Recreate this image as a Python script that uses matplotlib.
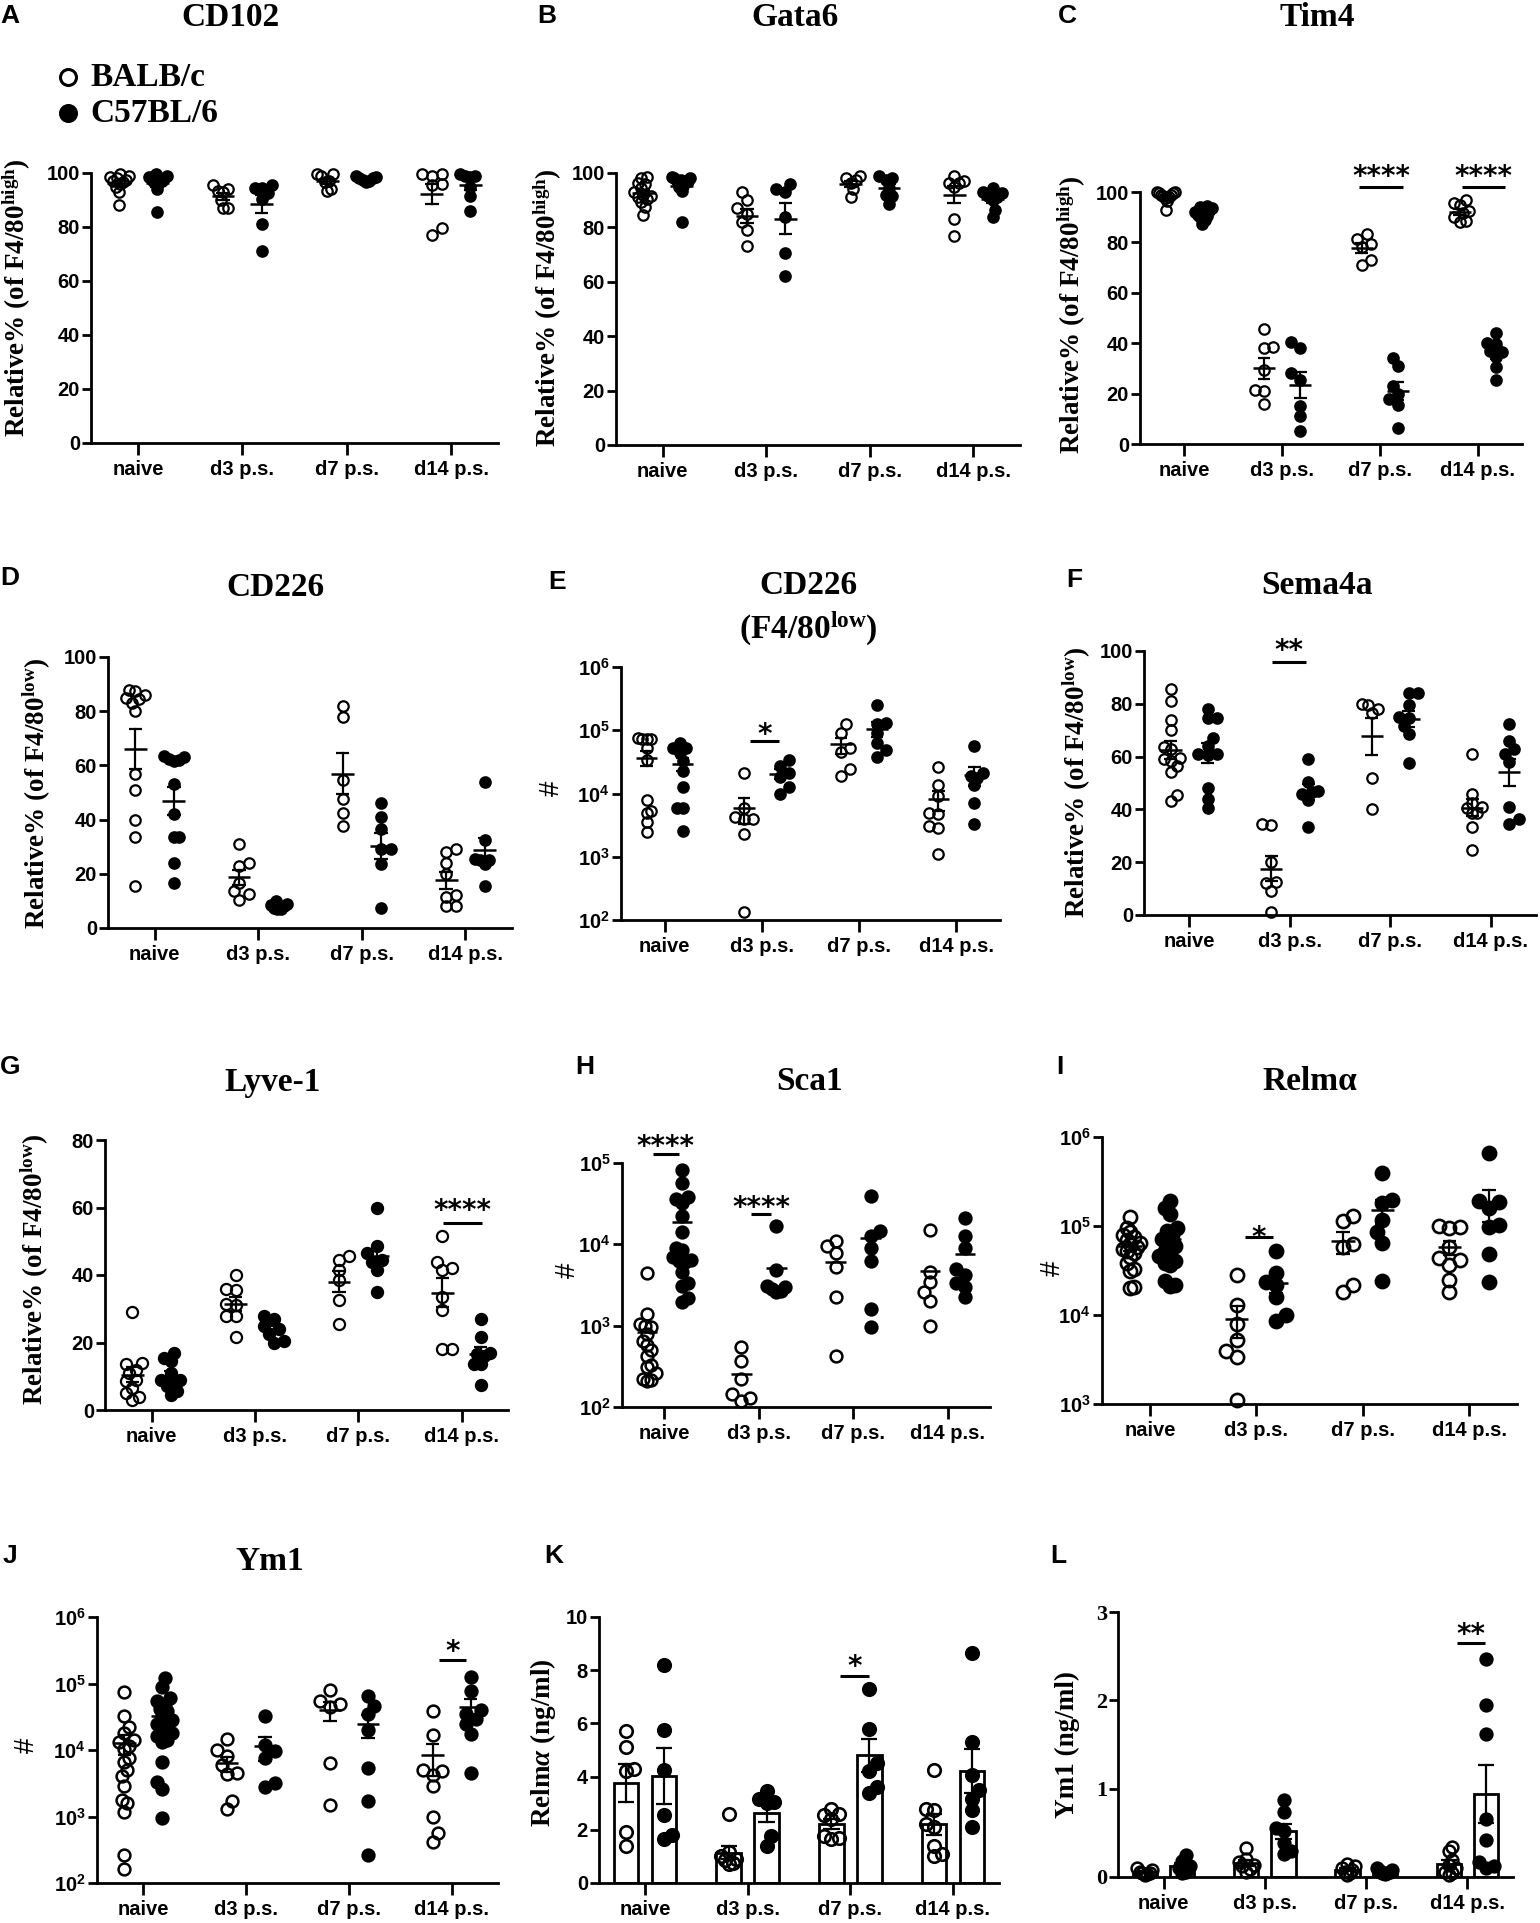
import numpy as np
import matplotlib
matplotlib.use("Agg")
import matplotlib.pyplot as plt
from matplotlib.lines import Line2D
from matplotlib.ticker import NullLocator

plt.rcParams['font.family'] = 'Liberation Sans'
plt.rcParams['font.weight'] = 'bold'
plt.rcParams['mathtext.fontset'] = 'custom'
plt.rcParams['mathtext.rm'] = 'Liberation Serif:bold'
plt.rcParams['mathtext.bf'] = 'Liberation Serif:bold'
plt.rcParams['mathtext.it'] = 'Liberation Serif:bold:italic'
plt.rcParams['mathtext.sf'] = 'Liberation Sans:bold'

W, H = 1540, 1923
groups = ['naive', 'd3 p.s.', 'd7 p.s.', 'd14 p.s.']

# ---- data: one list per time point (naive, d3, d7, d14) ----
cd102_balb = [[99.5, 99, 98.5, 98, 97.5, 97, 96.5, 96, 95, 93, 88],
              [95.5, 94, 93.5, 93, 90, 87, 87],
              [99.5, 99.5, 99, 97, 96.5, 94, 93.5],
              [99.5, 99.5, 99, 96, 95.5, 79.5, 77]]
cd102_b6 = [[99.5, 99, 98.5, 98, 97.5, 97, 97, 96.5, 94, 85.5],
            [95.5, 94.5, 94.5, 92.5, 90.5, 81, 71],
            [99, 98.5, 98, 98, 97.5, 97, 96.5],
            [99.5, 99, 99, 98.5, 95, 91.5, 86]]

gata6_balb = [[98.5, 98, 96.5, 96, 94.5, 93, 92, 91.5, 91, 90.5, 89.5, 87.5, 84.5],
              [93, 90, 87, 85, 82, 79, 73],
              [99, 98, 97.5, 96.5, 94, 91],
              [99, 97, 96.5, 96.5, 95, 83, 77]]
gata6_b6 = [[98.5, 98, 98, 97.5, 97, 97, 96.5, 96, 95, 93.5, 82],
            [96, 94, 93, 84, 70.5, 62],
            [99, 98, 97.5, 94.5, 92, 91.5, 88.5],
            [94.5, 93, 92.5, 91.5, 91, 90, 86.5, 84]]

tim4_balb = [[100, 100, 99.5, 99.5, 99, 99, 98.5, 98, 97.5, 96.5, 93],
             [45.5, 38.5, 38, 29.5, 21.5, 21, 16],
             [83.5, 81.5, 79.5, 78, 73, 71],
             [97, 95.5, 95, 92.5, 91.5, 90, 88.5, 88]]
tim4_b6 = [[94.5, 94, 93.5, 93, 92.5, 92, 91.5, 91, 90.5, 90, 89, 87.5],
           [40.5, 38, 28, 25.5, 15, 11, 5],
           [34, 31, 23, 20, 18, 15.5, 6.5],
           [44, 40, 39.5, 37, 36.5, 34.5, 30.5, 25.5]]

cd226_balb = [[88, 87.5, 86, 85, 84.5, 83, 80, 57, 51, 40, 33.5, 15.5],
              [31, 24, 23, 16.5, 13.5, 12.5, 10.5],
              [82, 78, 54.5, 47.5, 42.5, 37.5],
              [29, 28, 24, 20, 12, 11.5, 8, 8]]
cd226_b6 = [[63.5, 63, 62.5, 62, 61.5, 53, 42, 33.5, 33.5, 24, 16.5],
            [10, 9, 8.5, 8, 7.5, 7, 7],
            [46, 41, 36.5, 29, 29, 23.5, 7.5],
            [54, 32.5, 25.5, 25, 25, 23.5, 15.5]]

cd226n_balb = [[75000, 74000, 73000, 72000, 52000, 34000, 7800, 5200, 5000, 3600, 2500],
               [21000, 6000, 4200, 4000, 3900, 2300, 135],
               [125000, 92000, 52000, 46000, 24000, 19000],
               [26000, 13500, 9000, 5000, 4700, 3100, 2800, 1100]]
cd226n_b6 = [[63000, 53000, 52000, 43000, 33000, 23000, 12500, 6000, 5800, 2600],
             [34000, 27000, 21000, 18000, 12500, 9800],
             [250000, 130000, 125000, 90000, 63000, 48000, 38000],
             [56000, 21000, 19000, 17500, 13500, 7000, 3300]]

sema_balb = [[85.5, 81, 74, 70, 63.5, 63, 59.5, 59, 58.5, 56.5, 54, 45.5, 43],
             [34.5, 34, 20, 12.5, 12, 9, 1],
             [80, 79.5, 78, 76.5, 52, 40],
             [61, 46, 42.5, 41, 40.5, 38.5, 38.5, 33.5, 24.5]]
sema_b6 = [[78, 74.5, 74.5, 67, 64, 61, 61, 60.5, 48, 44, 40.5],
           [59, 50.5, 47, 46.5, 46, 43.5, 33.5],
           [84, 84, 79.5, 75, 74.5, 71.5, 68.5, 57.5],
           [72.5, 66, 63, 61, 58, 41, 36.5, 34.5]]

lyve_balb = [[29, 14, 13.5, 12, 11, 9, 8.5, 6.5, 5, 4, 3],
             [40, 36, 35.5, 31.5, 31, 28, 28, 21.5],
             [45.5, 44.5, 41.5, 38.5, 32.5, 25.5],
             [51.5, 44, 42, 41.5, 33.5, 29.5, 18, 18]]
lyve_b6 = [[17, 15.5, 14.5, 11, 9, 9, 8.5, 7, 5.5, 4.5],
           [28, 27, 25, 24, 22.5, 20.5, 20],
           [60, 48.5, 46.5, 44.5, 44, 41.5, 35],
           [27, 21.5, 17, 16.5, 16, 13.5, 13.5, 7.5]]

sca1_balb = [[4500, 1400, 1050, 1000, 950, 800, 650, 580, 500, 420, 330, 310, 260, 220, 215, 210],
             [540, 370, 220, 145, 130, 118],
             [11000, 9500, 7800, 5300, 2250, 420],
             [15000, 4600, 3400, 2600, 2000, 1000]]
sca1_b6 = [[83000, 56000, 38000, 36000, 32000, 22000, 14000, 9000, 8400, 7000, 6500, 6300,
            6000, 4600, 3300, 3100, 2200, 1950],
           [17000, 4900, 3100, 3000, 2800, 2700, 2600],
           [39000, 14500, 12500, 9000, 6200, 1600, 950],
           [21000, 12500, 9000, 5000, 4200, 3300, 3000, 2250]]

relma_balb = [[125000, 95000, 85000, 80000, 75000, 70000, 65000, 62000, 58000, 55000, 52000,
               50000, 45000, 38000, 33000, 31000, 20500, 20000],
              [28500, 13000, 8000, 5300, 3900, 3400, 1100],
              [130000, 115000, 62000, 58000, 21500, 18000],
              [100000, 98000, 96000, 58000, 44000, 42000, 36000, 25000, 18000]]
relma_b6 = [[190000, 160000, 135000, 95000, 88000, 80000, 72000, 65000, 60000, 52000, 50000,
             46000, 40000, 38000, 36000, 24000, 22000, 21000],
            [52000, 30000, 23500, 21500, 16000, 10000, 8500],
            [390000, 195000, 180000, 118000, 85000, 65000, 24000],
            [660000, 190000, 185000, 160000, 102000, 98000, 48000, 23500]]

ym1_balb = [[75000, 32000, 22000, 18000, 14000, 13000, 11500, 10500, 7700, 6600, 5000, 4000,
             2900, 1800, 1600, 1150, 260, 165],
            [14500, 10000, 8000, 6000, 4500, 4300, 1700, 1300],
            [80000, 55000, 50000, 45000, 6300, 1500],
            [39000, 17000, 5000, 4800, 4200, 2900, 1000, 560, 420]]
ym1_b6 = [[120000, 90000, 60000, 55000, 50000, 42000, 38000, 32000, 28000, 25000, 22000, 20000,
           18000, 16000, 14000, 13000, 6600, 3300, 2600, 950],
          [33000, 12000, 9500, 7500, 3200, 2800],
          [64000, 46000, 35000, 20000, 5300, 1700, 260],
          [126000, 77000, 40000, 35000, 29000, 24500, 17500, 4500]]

relma_ng_balb = [[5.7, 5.1, 4.3, 4.2, 1.9, 1.4],
                 [2.6, 1.15, 1.0, 0.9, 0.85, 0.75, 0.7],
                 [2.8, 2.6, 2.55, 2.4, 1.75, 1.7, 1.65],
                 [4.25, 2.8, 2.75, 2.2, 2.1, 1.4, 1.1, 1.0]]
relma_ng_b6 = [[8.2, 5.75, 4.25, 2.55, 1.8, 1.65],
               [3.45, 3.15, 3.05, 3.0, 1.75, 1.4],
               [7.3, 5.8, 4.5, 4.2, 3.6, 3.4],
               [8.65, 5.3, 4.05, 3.5, 3.15, 2.75, 2.1]]

ym1_ng_balb = [[0.1, 0.08, 0.06, 0.05, 0.04, 0.03, 0.02],
               [0.33, 0.2, 0.17, 0.14, 0.12, 0.09, 0.06],
               [0.15, 0.12, 0.1, 0.08, 0.06, 0.04, 0.02],
               [0.34, 0.3, 0.19, 0.14, 0.1, 0.06, 0.04, 0.02]]
ym1_ng_b6 = [[0.25, 0.18, 0.12, 0.1, 0.06, 0.04],
             [0.87, 0.74, 0.56, 0.52, 0.38, 0.3, 0.26],
             [0.1, 0.08, 0.07, 0.06, 0.05, 0.04, 0.03],
             [2.47, 1.95, 1.62, 0.66, 0.42, 0.17, 0.13, 0.1]]

OFF = 0.185
fig = plt.figure(figsize=(W / 100, H / 100), dpi=100)


def rect(l, t, r, b):
    return [l / W, 1 - b / H, (r - l) / W, (b - t) / H]


def put(x, y, s, **kw):
    fig.text(x / W, 1 - y / H, s, **kw)


def swarm(ax, x0, vals, diam, limit):
    pts = ax.transData.transform(np.column_stack([np.full(len(vals), x0), vals]))
    ypx = pts[:, 1]
    order = np.argsort(ypx)
    placed = []
    dx = np.zeros(len(vals))
    step = diam * 0.55
    for n, i in enumerate(order):
        k = 0
        while True:
            sgn = 1 if n % 2 else -1
            cands = [0.0] if k == 0 else [sgn * k * step, -sgn * k * step]
            got = None
            for c in cands:
                if all((c - px) ** 2 + (ypx[i] - py) ** 2 >= (diam * 0.85) ** 2 for px, py in placed):
                    got = c
                    break
            if got is not None:
                break
            k += 1
        placed.append((got, ypx[i]))
        dx[i] = got
    # squeeze wide clusters, the way the original lets dots overlap
    px_unit = ax.transData.transform((1, ypx[0]))[0] - ax.transData.transform((0, ypx[0]))[0]
    lim_px = limit * px_unit
    if np.abs(dx).max() > lim_px:
        dx *= lim_px / np.abs(dx).max()
    inv = ax.transData.inverted()
    return inv.transform(np.column_stack([pts[:, 0] + dx, ypx]))[:, 0]


def panel(box, balb, b6, ylim, yticks, log=False, bars=False, err=True, ms=7.5, mew=1.6,
          serif_ticks=False):
    ax = fig.add_axes(rect(*box))
    ax.set_xlim(-0.45, 3.45)
    if log:
        ax.set_yscale('log')
    ax.set_ylim(ylim)
    ax.set_yticks(yticks)
    if log:
        ax.set_yticklabels([r'$\mathsf{10^{%d}}$' % round(np.log10(t)) for t in yticks])
    else:
        ax.set_yticklabels([f'{t:g}' for t in yticks])
    ax.yaxis.set_minor_locator(NullLocator())
    ax.set_xticks(range(4))
    ax.set_xticklabels(groups)
    for s in ['top', 'right']:
        ax.spines[s].set_visible(False)
    for s in ['left', 'bottom']:
        ax.spines[s].set_linewidth(2)
    ax.tick_params(axis='y', length=6.5, width=2, pad=1.5, labelsize=14.5)
    ax.tick_params(axis='x', length=8.5, width=2, pad=4, labelsize=14.5)
    if serif_ticks:
        for lab in ax.get_yticklabels():
            lab.set_fontfamily('Liberation Serif')
            lab.set_fontsize(16)

    diam = ms * 100 / 72
    for g in range(4):
        for k, (vals, face) in enumerate([(balb[g], 'none'), (b6[g], 'k')]):
            x0 = g - OFF if k == 0 else g + OFF
            v = np.array(vals, float)
            m = v.mean()
            se = v.std(ddof=1) / np.sqrt(len(v))
            if bars:
                ax.bar(x0, m, width=0.24, color='white', edgecolor='k', lw=2, zorder=1)
            xs = swarm(ax, x0, v, diam, 0.075 if bars else 0.095)
            ax.plot(xs, v, 'o', ms=ms, mfc=face, mec='k', mew=mew, ls='none',
                    zorder=3, clip_on=False)
            if not bars:
                ax.plot([x0 - 0.11, x0 + 0.11], [m, m], color='k', lw=1.8, zorder=4,
                        solid_capstyle='butt')
            if err:
                lo = max(m - se, ylim[0])
                ax.plot([x0, x0], [lo, m + se], color='k', lw=1.6, zorder=4)
                cw = 0.08 if bars else 0.065
                ax.plot([x0 - cw, x0 + cw], [m + se, m + se], color='k', lw=1.6, zorder=4,
                        solid_capstyle='butt')
                if m - se > ylim[0]:
                    ax.plot([x0 - cw, x0 + cw], [m - se, m - se], color='k', lw=1.6,
                            zorder=4, solid_capstyle='butt')
    return ax


def sig(ax, g, stars, yline, ytext, x0, x1):
    ax.plot([g + x0, g + x1], [yline, yline], color='k', lw=2.2, clip_on=False,
            solid_capstyle='butt')
    ax.annotate(stars, xy=(g + (x0 + x1) / 2, ytext), xytext=(0, -0.58 * 20),
                textcoords='offset points', ha='center', va='baseline', fontsize=20,
                family='DejaVu Sans', fontweight='bold', annotation_clip=False)


pct = [0, 20, 40, 60, 80, 100]
lab_hi = r'Relative% (of F4/80$^{\mathrm{high}}$)'
lab_lo = r'Relative% (of F4/80$^{\mathrm{low}}$)'
serif = dict(family='Liberation Serif', fontweight='bold')

# row 1
axA = panel((91, 173, 498, 443), cd102_balb, cd102_b6, (0, 100), pct)
axB = panel((616, 173, 1020, 445), gata6_balb, gata6_b6, (0, 100), pct)
axC = panel((1140, 192, 1522, 444), tim4_balb, tim4_b6, (0, 100), pct)
sig(axC, 2, '****', 102, 109, -0.21, 0.24)
sig(axC, 3, '****', 102, 109, -0.16, 0.28)

# row 2
axD = panel((108, 657, 512, 928), cd226_balb, cd226_b6, (0, 100), pct)
axE = panel((621, 667, 1000, 920), cd226n_balb, cd226n_b6, (1e2, 1e6),
            [1e2, 1e3, 1e4, 1e5, 1e6], log=True)
sig(axE, 1, '*', 68000, 115000, -0.12, 0.18)
axF = panel((1144, 651, 1536, 915), sema_balb, sema_b6, (0, 100), pct)
sig(axF, 1, '**', 96, 103, -0.18, 0.16)

# row 3
axG = panel((105, 1140, 508, 1410), lyve_balb, lyve_b6, (0, 80), [0, 20, 40, 60, 80], ms=8)
sig(axG, 3, '****', 55.5, 61.4, -0.18, 0.2)
axH = panel((622, 1163, 990, 1407), sca1_balb, sca1_b6, (1e2, 1e5),
            [1e2, 1e3, 1e4, 1e5], log=True, err=False, ms=8.5, mew=1.8)
sig(axH, 0, '****', 128000, 200000, -0.12, 0.15)
sig(axH, 1, '****', 23800, 35500, -0.08, 0.13)
axI = panel((1102, 1137, 1517, 1404), relma_balb, relma_b6, (1e3, 1e6),
            [1e3, 1e4, 1e5, 1e6], log=True, ms=9.5, mew=1.9)
sig(axI, 1, '*', 75000, 90000, -0.11, 0.16)

# row 4
axJ = panel((97, 1617, 498, 1883), ym1_balb, ym1_b6, (1e2, 1e6),
            [1e2, 1e3, 1e4, 1e5, 1e6], log=True, ms=8.5, mew=1.8)
sig(axJ, 3, '*', 223000, 400000, -0.12, 0.14)
axK = panel((599, 1617, 999, 1883), relma_ng_balb, relma_ng_b6, (0, 10),
            [0, 2, 4, 6, 8, 10], bars=True, ms=9, mew=1.9)
sig(axK, 2, '*', 7.8, 8.44, -0.1, 0.18)
axL = panel((1118, 1612, 1513, 1877), ym1_ng_balb, ym1_ng_b6, (0, 3),
            [0, 1, 2, 3], bars=True, ms=8.5, mew=1.8, serif_ticks=True)
sig(axL, 3, '**', 2.65, 2.83, -0.1, 0.17)

# panel letters
for (x, y, s) in [(10, 16, 'A'), (547, 16, 'B'), (1067, 16, 'C'),
                  (10, 578, 'D'), (557, 582, 'E'), (1074, 580, 'F'),
                  (10, 1067, 'G'), (585, 1067, 'H'), (1060, 1067, 'I'),
                  (10, 1556, 'J'), (554, 1556, 'K'), (1058, 1556, 'L')]:
    put(x, y, s, fontsize=19, ha='center', va='center')

# titles
for (x, y, s) in [(230, 17, 'CD102'), (795, 17, 'Gata6'), (1317, 17, 'Tim4'),
                  (275, 587, 'CD226'), (808, 585, 'CD226'), (1317, 585, 'Sema4a'),
                  (273, 1082, 'Lyve-1'), (810, 1082, 'Sca1'), (1310, 1082, 'Relmα'),
                  (270, 1562, 'Ym1')]:
    put(x, y, s, fontsize=24, ha='center', va='center', **serif)
put(808, 629, r'(F4/80$^{\mathrm{low}}$)', fontsize=24, ha='center', va='center', **serif)

# y labels
for (x, y, s) in [(17, 298, lab_hi), (548, 308, lab_hi), (1072, 315, lab_hi),
                  (37, 793, lab_lo), (1077, 782, lab_lo), (35, 1269, lab_lo),
                  (543, 1743, r'Relm$\alpha$ (ng/ml)'), (1067, 1745, 'Ym1 (ng/ml)')]:
    put(x, y, s, fontsize=19.5, rotation=90, ha='center', va='center', **serif)
for (x, y) in [(552, 788), (568, 1270), (1053, 1268), (27, 1745)]:
    put(x, y, '#', fontsize=20, rotation=90, ha='center', va='center', fontweight='normal')

# legend
for (y, face, s) in [(77, 'none', 'BALB/c'), (113, 'k', 'C57BL/6')]:
    fig.add_artist(Line2D([68 / W], [1 - y / H], transform=fig.transFigure, marker='o',
                          ms=11.5, mfc=face, mec='k', mew=2.2, ls='none'))
    put(90, y, s, fontsize=24, ha='left', va='center', **serif)

fig.savefig('out.png', dpi=100)
